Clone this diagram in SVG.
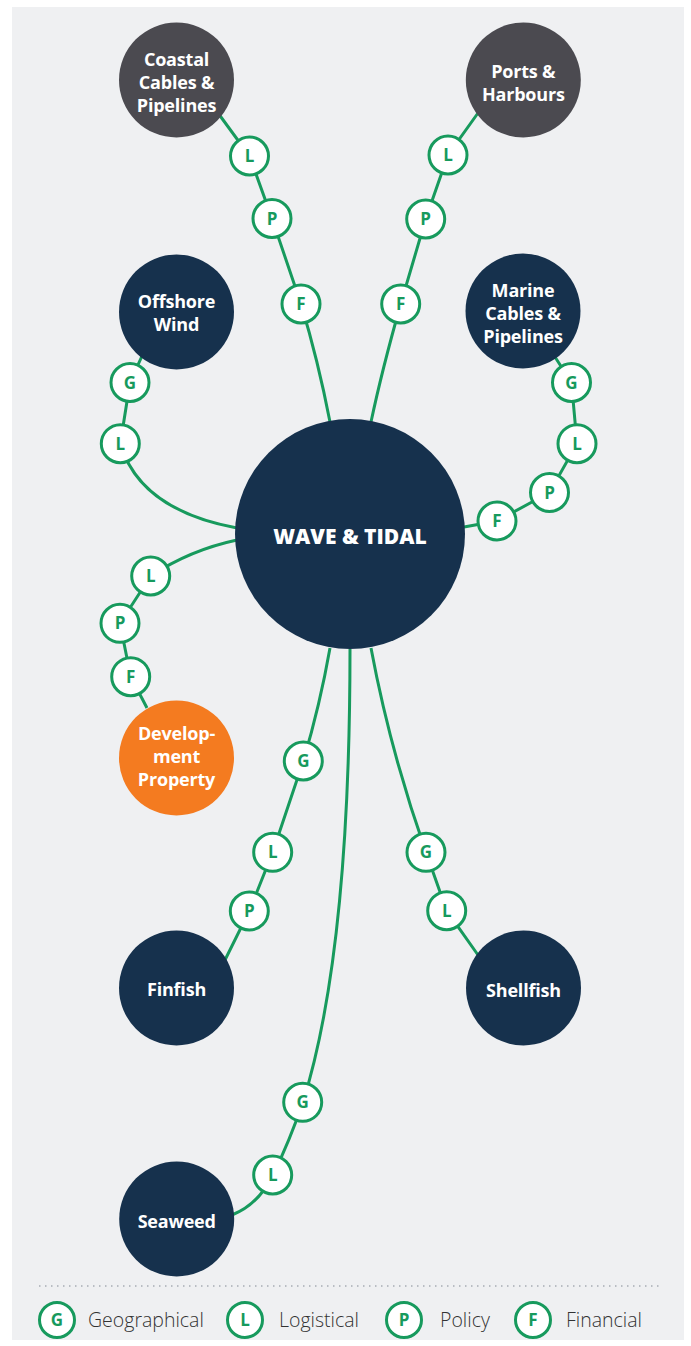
<svg xmlns="http://www.w3.org/2000/svg" width="691" height="1346" viewBox="0 0 691 1346">
<style>
.bg{fill:#eff0f2}
.navy{fill:#16314d}
.grey{fill:#4b4a50}
.orange{fill:#f47b20}
.nt{font-family:"Open Sans","Noto Sans","Liberation Sans",sans-serif;font-weight:700;font-size:18px;letter-spacing:-0.2px;fill:#ffffff;text-anchor:middle}
.ct{font-family:"Open Sans","Noto Sans","Liberation Sans",sans-serif;font-weight:800;font-size:21px;fill:#ffffff;text-anchor:middle}
.conn{fill:none;stroke:#179a5d;stroke-width:3}
.badge circle{fill:#ffffff;stroke:#179a5d;stroke-width:3}
.badge text{font-family:"Open Sans","Noto Sans","Liberation Sans",sans-serif;font-weight:700;font-size:17px;fill:#179a5d;text-anchor:middle}
.lt{font-family:"Open Sans","Noto Sans","Liberation Sans",sans-serif;font-weight:300;font-size:19.5px;fill:#333333}
</style>
<defs>
<g id="bG" class="badge"><circle r="19"/><text y="6">G</text></g>
<g id="bL" class="badge"><circle r="19"/><text y="6">L</text></g>
<g id="bP" class="badge"><circle r="19"/><text y="6">P</text></g>
<g id="bF" class="badge"><circle r="19"/><text y="6">F</text></g>
</defs>
<rect class="bg" x="12" y="7" width="672" height="1333"/>

<g id="connectors">
<path class="conn" d="M 218,113 L 249.5,156 L 272,218.5 L 301,304 Q 318,360 330,422"/>
<path class="conn" d="M 478,113 L 448,155 L 425.7,219 L 400.7,304 Q 382,370 371,422"/>
<path class="conn" d="M 142,356 L 130,382.5 L 120.3,443.7 Q 140,510 237,528"/>
<path class="conn" d="M 237,540 Q 190,550 150.7,576 L 120,623.3 L 130.7,676.7 L 147,708"/>
<path class="conn" d="M 555,357 L 571.5,382.5 L 577,443.7 L 549.5,492.5 L 497,521 L 464,527"/>
<path class="conn" d="M 330,648 Q 320,705 303.3,761 L 272.7,852.3 L 249.3,911 L 224,962"/>
<path class="conn" d="M 371,648 Q 390,750 426,852.3 L 446.7,910.7 L 478,955"/>
<path class="conn" d="M 350,649 C 350,850 335,1000 303,1102 Q 290,1140 273,1175 Q 258,1205 232,1215"/>
</g>

<g id="node-center"><circle class="navy" cx="350" cy="534" r="115"/><text class="ct" x="350" y="544">WAVE &amp; TIDAL</text></g>
<g id="node-coastal"><circle class="grey" cx="176.5" cy="80" r="57.5"/><text class="nt" x="176.5" y="66">Coastal</text><text class="nt" x="176.5" y="89">Cables &amp;</text><text class="nt" x="176.5" y="112">Pipelines</text></g>
<g id="node-ports"><circle class="grey" cx="523.3" cy="80" r="57.5"/><text class="nt" x="523.3" y="78">Ports &amp;</text><text class="nt" x="523.3" y="100.5">Harbours</text></g>
<g id="node-offshore"><circle class="navy" cx="176.5" cy="312" r="57.5"/><text class="nt" x="176.5" y="308">Offshore</text><text class="nt" x="176.5" y="331">Wind</text></g>
<g id="node-marine"><circle class="navy" cx="523" cy="311" r="57.5"/><text class="nt" x="523" y="297">Marine</text><text class="nt" x="523" y="320">Cables &amp;</text><text class="nt" x="523" y="343">Pipelines</text></g>
<g id="node-development"><circle class="orange" cx="176.5" cy="758" r="57.5"/><text class="nt" x="176.5" y="740">Develop-</text><text class="nt" x="176.5" y="763">ment</text><text class="nt" x="176.5" y="786">Property</text></g>
<g id="node-finfish"><circle class="navy" cx="176.5" cy="988" r="57.5"/><text class="nt" x="176.5" y="996">Finfish</text></g>
<g id="node-shellfish"><circle class="navy" cx="523.5" cy="988" r="57.5"/><text class="nt" x="523.5" y="996.5">Shellfish</text></g>
<g id="node-seaweed"><circle class="navy" cx="176.7" cy="1219" r="57.5"/><text class="nt" x="176.7" y="1227.5">Seaweed</text></g>

<g id="badges">
<use href="#bL" x="249.5" y="156"/><use href="#bP" x="272" y="218.5"/><use href="#bF" x="301" y="304"/>
<use href="#bL" x="448" y="155"/><use href="#bP" x="425.7" y="219"/><use href="#bF" x="400.7" y="304"/>
<use href="#bG" x="130" y="382.5"/><use href="#bL" x="120.3" y="443.7"/>
<use href="#bL" x="150.7" y="576"/><use href="#bP" x="120" y="623.3"/><use href="#bF" x="130.7" y="676.7"/>
<use href="#bG" x="571.5" y="382.5"/><use href="#bL" x="577" y="443.7"/><use href="#bP" x="549.5" y="492.5"/><use href="#bF" x="497" y="521"/>
<use href="#bG" x="303.3" y="761"/><use href="#bL" x="272.7" y="852.3"/><use href="#bP" x="249.3" y="911"/>
<use href="#bG" x="426" y="852.3"/><use href="#bL" x="446.7" y="910.7"/>
<use href="#bG" x="302.7" y="1102.3"/><use href="#bL" x="272.7" y="1175"/>
</g>

<g id="legend">
<line x1="39" y1="1286" x2="660" y2="1286" stroke="#b9bdc3" stroke-width="2" stroke-dasharray="1.5 4.5"/>
<g class="badge"><circle cx="57" cy="1320" r="17.5"/><text x="57" y="1326">G</text></g>
<text class="lt" x="88" y="1327">Geographical</text>
<g class="badge"><circle cx="245" cy="1320" r="17.5"/><text x="245" y="1326">L</text></g>
<text class="lt" x="279" y="1327">Logistical</text>
<g class="badge"><circle cx="404" cy="1320" r="17.5"/><text x="404" y="1326">P</text></g>
<text class="lt" x="440" y="1327">Policy</text>
<g class="badge"><circle cx="533" cy="1320" r="17.5"/><text x="533" y="1326">F</text></g>
<text class="lt" x="566" y="1327">Financial</text>
</g>
</svg>
